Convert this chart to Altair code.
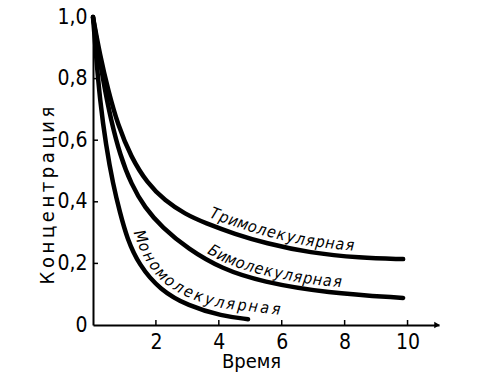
import numpy as np
import pandas as pd
import altair as alt

# ---- data ----
mono_x = [0, 0.095, 0.22, 0.41, 0.64, 0.86, 1.08, 1.46, 2.13, 3.02, 4.10, 4.93]
mono_y = [1.0, 0.877, 0.731, 0.584, 0.455, 0.364, 0.282, 0.195, 0.114, 0.062, 0.029, 0.019]
bi_x = [0, 0.16, 0.35, 0.57, 0.86, 1.21, 1.65, 2.19, 3.02, 4.10, 5.37, 7.44, 9.86]
bi_y = [1.0, 0.893, 0.779, 0.666, 0.552, 0.458, 0.380, 0.318, 0.247, 0.182, 0.140, 0.104, 0.088]
tri_x = [0, 0.22, 0.48, 0.79, 1.21, 1.72, 2.29, 2.93, 3.56, 4.52, 5.47, 6.90, 8.49, 9.86]
tri_y = [1.0, 0.877, 0.763, 0.649, 0.545, 0.461, 0.403, 0.360, 0.331, 0.295, 0.266, 0.234, 0.218, 0.214]

names = ["Мономолекулярная", "Бимолекулярная", "Тримолекулярная"]
x_ticks = [2, 4, 6, 8, 10]
y_ticks = [0, 0.2, 0.4, 0.6, 0.8, 1.0]

W, H = 346, 308
XMAX = 11
SX, SY = W / XMAX, H
FONT = "Liberation Sans Narrow, DejaVu Sans Condensed, Roboto Condensed, sans-serif"


def pchip(xs, ys, xq):
    xs = np.asarray(xs, float); ys = np.asarray(ys, float)
    h = np.diff(xs); d = np.diff(ys) / h
    m = np.zeros_like(xs)
    m[0], m[-1] = d[0], d[-1]
    for k in range(1, len(xs) - 1):
        if d[k - 1] * d[k] <= 0:
            m[k] = 0
        else:
            w1 = 2 * h[k] + h[k - 1]; w2 = h[k] + 2 * h[k - 1]
            m[k] = (w1 + w2) / (w1 / d[k - 1] + w2 / d[k])
    idx = np.clip(np.searchsorted(xs, xq) - 1, 0, len(xs) - 2)
    t = (xq - xs[idx]) / h[idx]
    h00 = 2 * t**3 - 3 * t**2 + 1; h10 = t**3 - 2 * t**2 + t
    h01 = -2 * t**3 + 3 * t**2; h11 = t**3 - t**2
    return h00 * ys[idx] + h10 * h[idx] * m[idx] + h01 * ys[idx + 1] + h11 * h[idx] * m[idx + 1]


def label_chars(text, xs, ys, x0, x1, d, ext=0.0):
    xq = np.linspace(0, xs[-1], 3000)
    yq = pchip(xs, ys, xq)
    X = xq * SX; Y = (1 - yq) * SY
    if ext > 0:
        tx, ty = X[-1] - X[-2], Y[-1] - Y[-2]
        nn = np.hypot(tx, ty); tx, ty = tx / nn, ty / nn
        ss = np.linspace(0, ext, 300)[1:]
        X = np.concatenate([X, X[-1] + tx * ss]); Y = np.concatenate([Y, Y[-1] + ty * ss])
    tx = np.gradient(X); ty = np.gradient(Y)
    nn = np.hypot(tx, ty); tx, ty = tx / nn, ty / nn
    OX = X + d * ty; OY = Y - d * tx
    s = np.concatenate([[0], np.cumsum(np.hypot(np.diff(OX), np.diff(OY)))])
    s0 = np.interp(x0 * SX, X, s); s1 = np.interp(x1 * SX, X, s)
    rows = []
    n = len(text)
    for i, ch in enumerate(text):
        si = s0 + (i + 0.5) * (s1 - s0) / n
        px = np.interp(si, s, OX); py = np.interp(si, s, OY)
        ang = np.degrees(np.arctan2(np.interp(si, s, ty), np.interp(si, s, tx))) % 360
        rows.append(dict(ch=ch, x=px / SX, y=1 - py / SY, angle=ang))
    return rows


curves = pd.concat([
    pd.DataFrame({"t": mono_x, "c": mono_y, "s": names[0]}),
    pd.DataFrame({"t": bi_x, "c": bi_y, "s": names[1]}),
    pd.DataFrame({"t": tri_x, "c": tri_y, "s": names[2]}),
])

lab = pd.DataFrame(
    label_chars(names[0], mono_x, mono_y, 1.05, 5.95, 8, ext=60)
    + label_chars(names[1], bi_x, bi_y, 3.5, 7.9, 7)
    + label_chars(names[2], tri_x, tri_y, 3.58, 8.3, 7)
)

xs = alt.Scale(domain=[0, XMAX], nice=False, zero=False)
ys = alt.Scale(domain=[0, 1], nice=False, zero=False)

x_axis = alt.Axis(
    values=x_ticks, ticks=False, grid=False, domainColor="black", domainWidth=2,
    labelFont=FONT, labelFontSize=21, labelColor="black", labelPadding=6,
    title="Время", titleFont=FONT, titleFontSize=20, titleFontWeight="normal",
    titleColor="black", titleX=158, titleY=36, titleBaseline="middle", titleAlign="center")
y_axis = alt.Axis(
    values=y_ticks, ticks=False, grid=False, domainColor="black", domainWidth=2,
    labelFont=FONT, labelFontSize=21, labelColor="black", labelPadding=6,
    labelExpr="datum.value == 0 ? '0' : replace(format(datum.value, '.1f'), '.', ',')",
    title="\u2009".join("Концентрация"), titleFont=FONT, titleFontSize=20,
    titleFontWeight="normal", titleColor="black", titleX=-46, titleY=178,
    titleAngle=270, titleBaseline="middle", titleAlign="center")

lines = alt.Chart(curves).mark_line(
    color="black", strokeWidth=4.5, interpolate="basis", strokeCap="round"
).encode(
    x=alt.X("t:Q", scale=xs, axis=x_axis),
    y=alt.Y("c:Q", scale=ys, axis=y_axis),
    detail="s:N",
)

xt = alt.Chart(pd.DataFrame({"t": x_ticks})).mark_rule(color="black", strokeWidth=1.5).encode(
    x=alt.X("t:Q", scale=xs, axis=x_axis), y=alt.value(H), y2=alt.value(H - 5))
yt = alt.Chart(pd.DataFrame({"c": y_ticks[1:-1]})).mark_rule(color="black", strokeWidth=1.5).encode(
    y=alt.Y("c:Q", scale=ys, axis=y_axis), x=alt.value(0), x2=alt.value(5))
arrow = alt.Chart(pd.DataFrame({"v": [0]})).mark_point(
    shape="triangle-right", filled=True, color="black", size=40, opacity=1
).encode(x=alt.value(W - 2), y=alt.value(H))

texts = alt.Chart(lab.rename(columns={"x": "t", "y": "c"})).mark_text(
    font=FONT, fontSize=16, fontStyle="italic", baseline="alphabetic", align="center", color="black"
).encode(
    x=alt.X("t:Q", scale=xs, axis=x_axis), y=alt.Y("c:Q", scale=ys, axis=y_axis),
    text="ch:N", angle=alt.Angle("angle:Q", scale=None),
)

chart = alt.layer(lines, xt, yt, arrow, texts).properties(
    width=W, height=H,
    padding={"left": 93, "top": 17, "right": 61, "bottom": 51},
    autosize=alt.AutoSizeParams(type="none"),
    background="white",
).configure_view(stroke=None)

chart.save("out.html", embed_options={"renderer": "svg", "actions": False})
